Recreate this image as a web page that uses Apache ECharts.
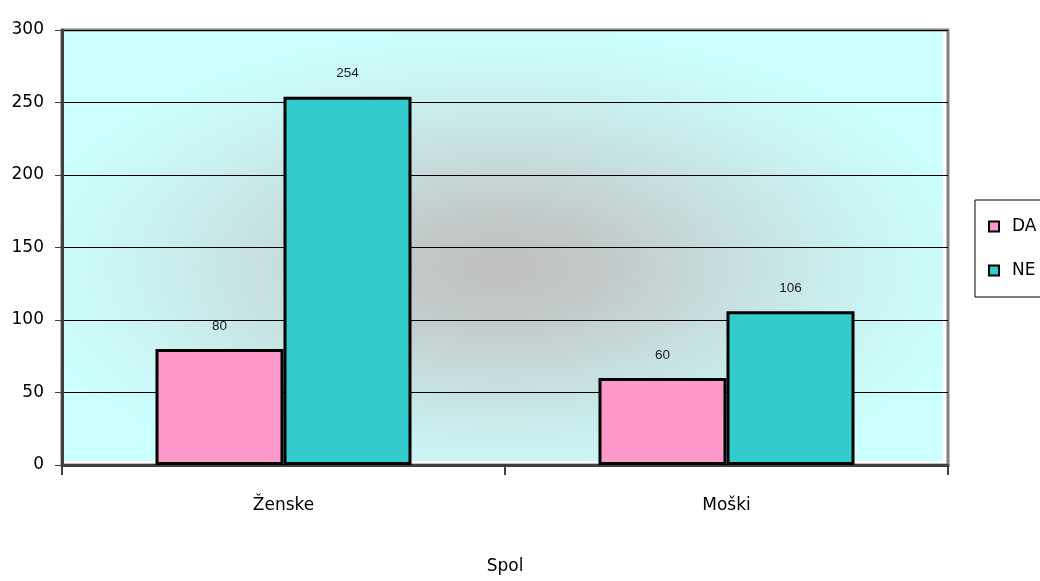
<!DOCTYPE html>
<html>
<head>
<meta charset="utf-8">
<script src="https://cdn.jsdelivr.net/npm/echarts@6/dist/echarts.min.js"></script>
<style>
  html, body { margin: 0; padding: 0; background: #ffffff; }
  #chart { width: 1040px; height: 581px; }
</style>
</head>
<body>
<div id="chart"></div>
<script>
// Respondents by gender, split by answer
const categories = ['Ženske', 'Moški'];
const seriesNames = ['DA', 'NE'];
const valuesDA = [80, 60];
const valuesNE = [254, 106];
const yTicks = { min: 0, max: 300, interval: 50 };
const axisTitle = 'Spol';

const W = 1040, H = 581;
const gridBox = { left: 62, right: 92, top: 30, bottom: 116 };
const plotW = W - gridBox.left - gridBox.right;
const plotH = H - gridBox.top - gridBox.bottom;

const chart = echarts.init(document.getElementById('chart'));

// Elliptical grey glow in the middle of the cyan plot area:
// a half-width rect stretched 2x horizontally so the radial gradient becomes an ellipse.
const glow = {
  type: 'radial', x: 0.5, y: 0.55, r: 0.56,
  colorStops: [
    { offset: 0, color: '#c0c0c0' },
    { offset: 0.2, color: '#c2c8c8' },
    { offset: 0.45, color: '#c6dcdc' },
    { offset: 0.75, color: '#caf2f2' },
    { offset: 1, color: '#ccffff' }
  ]
};

const labelStyle = {
  show: true, position: 'top', distance: 16,
  fontFamily: 'Liberation Sans', fontSize: 13.5, color: '#1a1a1a'
};

chart.setOption({
  animation: false,
  textStyle: { fontFamily: 'DejaVu Sans' },
  graphic: [
    {
      type: 'rect', z: -10, silent: true,
      left: gridBox.left - 2, top: gridBox.top,
      shape: { width: plotW - 3, height: plotH - 4 },
      style: { fill: '#ccffff' }
    },
    {
      type: 'rect', z: -9, silent: true,
      x: gridBox.left - 2, y: gridBox.top,
      scaleX: 2,
      shape: { x: 0, y: 0, width: (plotW - 3) / 2, height: plotH - 4 },
      style: { fill: glow }
    }
  ],
  grid: {
    left: gridBox.left, right: gridBox.right, top: gridBox.top, bottom: gridBox.bottom,
    outerBoundsMode: 'none', containLabel: false,
    show: true, backgroundColor: 'transparent',
    borderColor: '#808080', borderWidth: 3
  },
  legend: {
    orient: 'vertical', left: 975, top: 200,
    data: seriesNames,
    icon: 'rect', itemWidth: 10, itemHeight: 10, itemGap: 27,
    padding: [18, 12, 18, 13],
    borderColor: '#000000', borderWidth: 1, backgroundColor: '#ffffff',
    itemStyle: { borderColor: '#000000', borderWidth: 2 },
    textStyle: { fontFamily: 'DejaVu Sans', fontSize: 17, color: '#000000', padding: [0, 0, 0, 8] }
  },
  xAxis: {
    type: 'category', data: categories,
    name: axisTitle, nameLocation: 'middle', nameGap: 93,
    nameTextStyle: { fontFamily: 'DejaVu Sans', fontSize: 17, color: '#000000' },
    axisLine: { lineStyle: { color: '#404040', width: 3 } },
    axisTick: { show: true, length: 10, lineStyle: { color: '#404040', width: 2 } },
    axisLabel: { margin: 32, fontFamily: 'DejaVu Sans', fontSize: 17, color: '#000000' }
  },
  yAxis: {
    type: 'value', min: yTicks.min, max: yTicks.max, interval: yTicks.interval,
    axisLine: { show: true, lineStyle: { color: '#404040', width: 3 } },
    axisTick: { show: true, length: 7, lineStyle: { color: '#404040', width: 1 } },
    axisLabel: { margin: 18, fontFamily: 'DejaVu Sans', fontSize: 17, color: '#000000' },
    splitLine: { show: true, lineStyle: { color: '#000000', width: 1 } }
  },
  series: [
    {
      name: seriesNames[0], type: 'bar', data: valuesDA,
      barWidth: 128, barGap: '0%',
      itemStyle: { color: '#ff99cc', borderColor: '#000000', borderWidth: 3 },
      label: labelStyle
    },
    {
      name: seriesNames[1], type: 'bar', data: valuesNE,
      barWidth: 128, barGap: '0%',
      itemStyle: { color: '#33cccc', borderColor: '#000000', borderWidth: 3 },
      label: labelStyle
    }
  ]
});
</script>
</body>
</html>
